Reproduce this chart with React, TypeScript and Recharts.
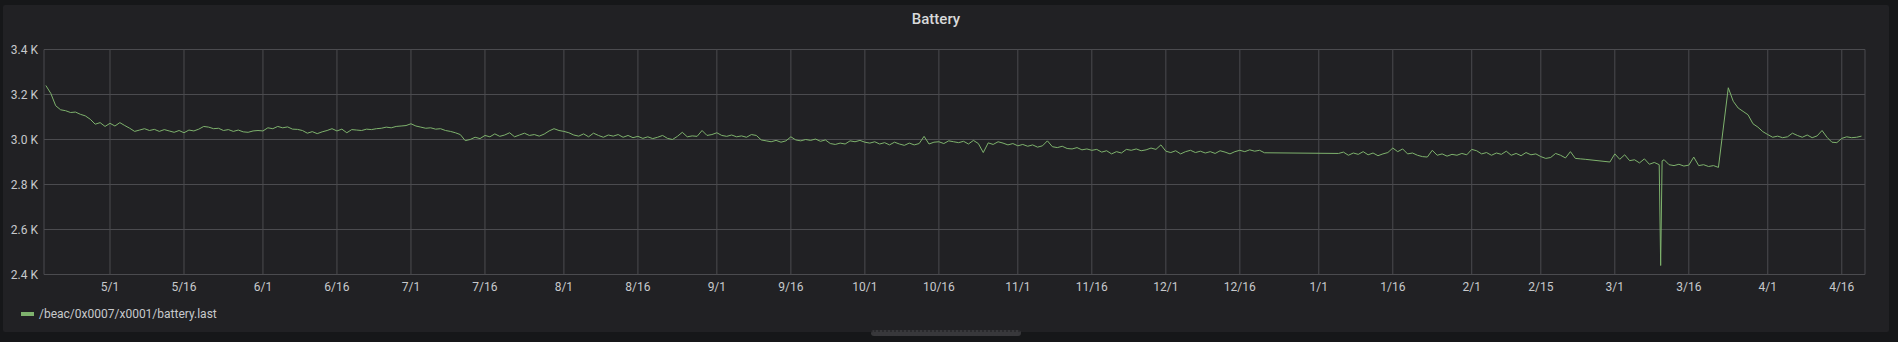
import React from 'react';
import { LineChart, Line, XAxis, YAxis, CartesianGrid } from 'recharts';

const seriesName = '/beac/0x0007/x0001/battery.last';

// daily readings, each array starts at the date given in `blocks`
const apr2019 = [3240, 3205, 3150, 3132, 3128, 3120, 3122, 3112, 3105, 3090, 3068, 3075, 3058];
const may2019 = [3072, 3060, 3075, 3062, 3050, 3036, 3042, 3048, 3040, 3045, 3036, 3044, 3038, 3032, 3040, 3030, 3042, 3038, 3046, 3058, 3055, 3048, 3050, 3040, 3044, 3036, 3042, 3034, 3032, 3038, 3040];
const jun2019 = [3038, 3052, 3048, 3058, 3052, 3056, 3046, 3045, 3040, 3028, 3035, 3026, 3034, 3040, 3048, 3038, 3046, 3030, 3044, 3042, 3040, 3046, 3044, 3048, 3050, 3055, 3052, 3058, 3060, 3062];
const jul2019 = [3070, 3060, 3055, 3050, 3052, 3046, 3048, 3040, 3036, 3030, 3022, 2995, 3000, 3010, 3004, 3018, 3012, 3025, 3014, 3020, 3030, 3012, 3020, 3028, 3018, 3022, 3015, 3024, 3038, 3048, 3040];
const aug2019 = [3036, 3030, 3020, 3015, 3025, 3012, 3028, 3018, 3010, 3020, 3015, 3022, 3010, 3018, 3008, 3014, 3005, 3012, 3004, 3010, 3018, 3005, 3000, 3014, 3032, 3012, 3016, 3014, 3040, 3018, 3022];
const sep2019 = [3030, 3018, 3014, 3020, 3012, 3016, 3010, 3022, 3018, 2998, 2994, 2990, 2996, 2988, 2994, 3012, 2998, 2994, 3000, 2996, 3002, 2992, 2998, 2982, 2978, 2984, 2980, 2994, 2990, 2996];
const oct2019 = [2988, 2984, 2990, 2980, 2986, 2976, 2988, 2980, 2974, 2984, 2976, 2982, 3014, 2980, 2988, 2990, 2982, 2994, 2990, 2986, 2992, 2980, 2996, 2982, 2942, 2985, 2978, 2990, 2984, 2976, 2982];
const nov2019 = [2972, 2978, 2970, 2976, 2966, 2972, 2994, 2968, 2964, 2970, 2960, 2958, 2964, 2954, 2958, 2952, 2956, 2944, 2950, 2936, 2946, 2940, 2956, 2952, 2958, 2950, 2954, 2962, 2956, 2976];
const dec2019 = [2948, 2942, 2950, 2936, 2946, 2952, 2942, 2948, 2940, 2946, 2938, 2950, 2944, 2936, 2946, 2952, 2946, 2954, 2948, 2952, 2941];
const jan2020 = [2938, 2944, 2930, 2940, 2934, 2946, 2932, 2940, 2928, 2936, 2942, 2962, 2946, 2958, 2936, 2940, 2930, 2924, 2922, 2952, 2930, 2936, 2926, 2934, 2930, 2938, 2932];
const feb2020 = [2956, 2950, 2936, 2942, 2930, 2940, 2934, 2948, 2930, 2938, 2928, 2942, 2932, 2936, 2924, 2916, 2920, 2938, 2930, 2918, 2946, 2916, 2914, 2912, null, null, null, null, 2900];
const mar2020 = [2936, 2912, 2932, 2906, 2910, 2896, 2914, 2890, 2898, 2888, 2910, 2888, 2884, 2890, 2882, 2886, 2922, 2884, 2888, 2880, 2884, 2876, null, 3230, 3170, 3140, 3125, 3110, 3070, 3055, 3035];
const apr2020 = [3022, 3010, 3015, 3008, 3012, 3028, 3018, 3010, 3020, 3008, 3016, 3040, 3010, 2988, 2986, 3005, 3012, 3008, 3010, 3015];

const blocks: [string, (number | null)[]][] = [
  ['2019-04-18', apr2019],
  ['2019-05-01', may2019],
  ['2019-06-01', jun2019],
  ['2019-07-01', jul2019],
  ['2019-08-01', aug2019],
  ['2019-09-01', sep2019],
  ['2019-10-01', oct2019],
  ['2019-11-01', nov2019],
  ['2019-12-01', dec2019],
  ['2020-01-05', jan2020],
  ['2020-02-01', feb2020],
  ['2020-03-01', mar2020],
  ['2020-04-01', apr2020],
];

// the short drop on 3/10
const dipTimes = ['2020-03-10T07:00:00Z', '2020-03-10T14:00:00Z'];
const dipValues = [2440, 2905];

const tickDates = [
  '2019-05-01', '2019-05-16', '2019-06-01', '2019-06-16', '2019-07-01', '2019-07-16',
  '2019-08-01', '2019-08-16', '2019-09-01', '2019-09-16', '2019-10-01', '2019-10-16',
  '2019-11-01', '2019-11-16', '2019-12-01', '2019-12-16', '2020-01-01', '2020-01-16',
  '2020-02-01', '2020-02-15', '2020-03-01', '2020-03-16', '2020-04-01', '2020-04-16',
];
const tickLabels = [
  '5/1', '5/16', '6/1', '6/16', '7/1', '7/16', '8/1', '8/16', '9/1', '9/16', '10/1', '10/16',
  '11/1', '11/16', '12/1', '12/16', '1/1', '1/16', '2/1', '2/15', '3/1', '3/16', '4/1', '4/16',
];
const yTicks = [2400, 2600, 2800, 3000, 3200, 3400];

const DAY = 86400000;
const utc = (s: string) => Date.parse(s.length === 10 ? s + 'T00:00:00Z' : s);

const data: { t: number; v: number }[] = [];
blocks.forEach(([start, values]) => {
  const t0 = utc(start);
  values.forEach((v, i) => {
    if (v !== null) data.push({ t: t0 + i * DAY, v });
  });
});
dipTimes.forEach((s, i) => data.push({ t: utc(s), v: dipValues[i] }));
data.sort((a, b) => a.t - b.t);

const xTicks = tickDates.map(utc);
const xDomain = [utc('2019-04-17T15:00:00Z'), utc('2020-04-20T17:00:00Z')];

const textColor = '#c7c9cc';
const font = 'Roboto, "Open Sans", sans-serif';

export default function App() {
  return (
    <div style={{ position: 'absolute', left: 0, top: 0, width: 1898, height: 342, background: '#161719', fontFamily: font }}>
      <div style={{ position: 'absolute', left: 3, top: 5, width: 1886, height: 327, background: '#212124', borderRadius: 2 }} />
      <div
        style={{
          position: 'absolute', left: 936, top: 10, transform: 'translateX(-50%)',
          color: '#d8d9da', fontSize: 15, fontWeight: 500, lineHeight: '18px',
        }}
      >
        Battery
      </div>
      <div style={{ position: 'absolute', left: 0, top: 0 }}>
        <LineChart width={1898} height={342} data={data} margin={{ top: 49.5, right: 33, bottom: 37.5, left: 0 }}>
          <CartesianGrid stroke="#4b4b4f" strokeWidth={1} />
          <XAxis
            type="number"
            dataKey="t"
            scale="linear"
            domain={xDomain}
            ticks={xTicks}
            interval={0}
            allowDataOverflow
            tickFormatter={(t: number) => tickLabels[xTicks.indexOf(t)] ?? ''}
            axisLine={false}
            tickLine={false}
            tickSize={0}
            tickMargin={8}
            height={30}
            tick={{ fill: textColor, fontSize: 12, fontFamily: font }}
          />
          <YAxis
            type="number"
            domain={[2400, 3400]}
            ticks={yTicks}
            interval={0}
            tickFormatter={(v: number) => (v / 1000).toFixed(1) + ' K'}
            axisLine={false}
            tickLine={false}
            tickSize={0}
            tickMargin={6}
            width={44}
            tick={{ fill: textColor, fontSize: 12, fontFamily: font }}
          />
          <Line
            type="linear"
            dataKey="v"
            stroke="#7eb26d"
            strokeWidth={1}
            dot={false}
            activeDot={false}
            isAnimationActive={false}
          />
        </LineChart>
      </div>
      <div style={{ position: 'absolute', left: 21, top: 306, display: 'flex', alignItems: 'center', color: textColor, fontSize: 12 }}>
        <span style={{ display: 'inline-block', width: 13, height: 4, background: '#7eb26d', marginRight: 5 }} />
        <span style={{ lineHeight: '16px' }}>{seriesName}</span>
      </div>
      <div
        style={{
          position: 'absolute', left: 871, top: 330, width: 150, height: 6, borderRadius: 3,
          background: '#38383b', boxSizing: 'border-box', borderTop: '2px dotted #2a2a2d', borderBottom: '2px dotted #38383b',
        }}
      />
    </div>
  );
}
